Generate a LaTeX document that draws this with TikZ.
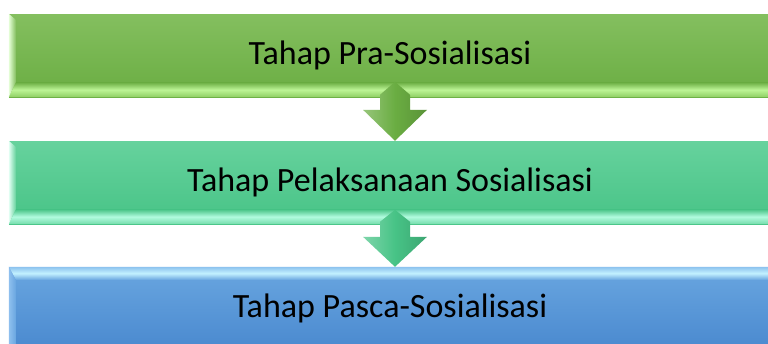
\documentclass[tikz,border=0pt]{standalone}
\usepackage{fontspec}
\setmainfont{Carlito}
\usetikzlibrary{calc}
\definecolor{gT}{HTML}{84BF5F}
\definecolor{gB}{HTML}{6AAD42}
\definecolor{gHL}{HTML}{BDF596}
\definecolor{gMid}{HTML}{8ECE63}
\definecolor{gEdge}{HTML}{E6FFD8}
\definecolor{tT}{HTML}{66D29D}
\definecolor{tB}{HTML}{47C386}
\definecolor{tHL}{HTML}{B2FBDF}
\definecolor{tMid}{HTML}{74DCAA}
\definecolor{tEdge}{HTML}{E4FFF4}
\definecolor{bT}{HTML}{69A6E0}
\definecolor{bB}{HTML}{4A89CF}
\definecolor{bHL}{HTML}{C3F1FF}
\definecolor{bMid}{HTML}{8CC2EE}
\definecolor{bEdge}{HTML}{8FC0EE}
\begin{document}
\begin{tikzpicture}[x=1pt,y=-1pt,
  stagebox/.style={minimum width=762, minimum height=83, inner sep=0pt,
    font=\fontsize{34}{40}\selectfont, text=black}]
\useasboundingbox (0,0) rectangle (768,343);
\clip (0,0) rectangle (768,343);
\fill[white] (0,0) rectangle (768,343);

% boxes
\node[stagebox, top color=gT, bottom color=gB] (b1) at (390,55.5) {Tahap Pra-Sosialisasi};
\node[stagebox, top color=tT, bottom color=tB] (b2) at (390,182.5) {Tahap Pelaksanaan Sosialisasi};
\node[stagebox, top color=bT, bottom color=bB] (b3) at (390,308.5) {Tahap Pasca-Sosialisasi};

% bevels box 1
\shade[top color=gB, bottom color=gMid, middle color=gHL]
  (b1.south west) -- (b1.south east) -- ($(b1.south east)+(0,-15)$) -- ($(b1.south west)+(7,-15)$) -- cycle;
\shade[left color=gEdge, right color=gT]
  (b1.north west) -- ($(b1.north west)+(7,6)$) -- ($(b1.south west)+(7,-15)$) -- (b1.south west) -- cycle;
% bevels box 2
\shade[top color=tB, bottom color=tMid, middle color=tHL]
  (b2.south west) -- (b2.south east) -- ($(b2.south east)+(0,-15)$) -- ($(b2.south west)+(7,-15)$) -- cycle;
\shade[left color=tEdge, right color=tT]
  (b2.north west) -- ($(b2.north west)+(7,6)$) -- ($(b2.south west)+(7,-15)$) -- (b2.south west) -- cycle;
% bevels box 3
\shade[top color=bMid, bottom color=bT, middle color=bHL]
  (b3.north west) -- (b3.north east) -- ($(b3.north east)+(0,13)$) -- ($(b3.north west)+(7,13)$) -- cycle;
\shade[left color=bEdge, right color=bT]
  (b3.north west) -- ($(b3.north west)+(7,13)$) -- ($(b3.south west)+(7,0)$) -- (b3.south west) -- cycle;

% arrows
\coordinate (t1) at ($(b2.north)+(5,0)$);
\shade[left color=gB!70!white, right color=gB!85!black, middle color=gB]
  (t1) -- ++(-32,-31) -- ++(17,0) -- ++(0,-15) -- ++(15,-13) -- ++(15,13) -- ++(0,15) -- ++(17,0) -- cycle;
\coordinate (t2) at ($(b3.north)+(5,0)$);
\shade[left color=tB!70!white, right color=tB!85!black, middle color=tB]
  (t2) -- ++(-32,-30) -- ++(17,0) -- ++(0,-15) -- ++(15,-12) -- ++(15,12) -- ++(0,15) -- ++(17,0) -- cycle;
\end{tikzpicture}
\end{document}
